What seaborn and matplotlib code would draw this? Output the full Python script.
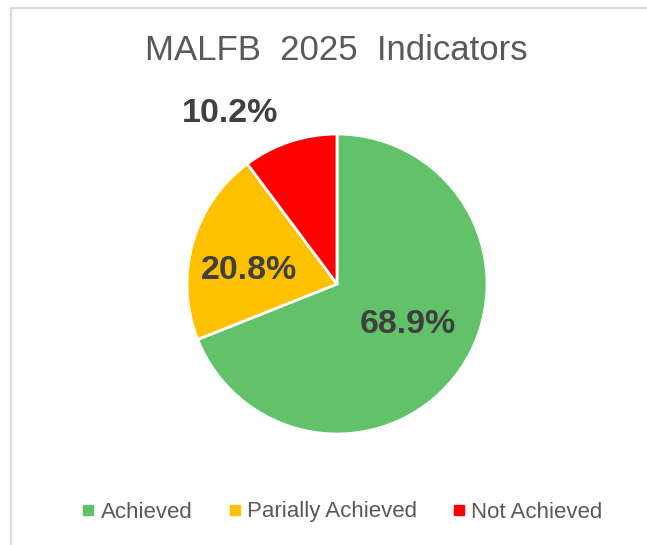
import matplotlib
matplotlib.use("Agg")
import matplotlib.pyplot as plt
import seaborn as sns
import numpy as np
from matplotlib.lines import Line2D

categorias = ["Achieved", "Parially Achieved", "Not Achieved"]
valores = [68.9, 20.8, 10.2]
rotulos = ["68.9%", "20.8%", "10.2%"]
cores = ["#62C26A", "#FFC000", "#FF0000"]

sns.set_theme(style="white")
plt.rcParams["font.family"] = ["Liberation Sans", "DejaVu Sans"]

fig = plt.figure(figsize=(6.47, 5.45), dpi=100)
ax = fig.add_axes([187 / 647, 111 / 545, 300 / 647, 300 / 545])

paleta = sns.color_palette(cores)
wedges, _ = ax.pie(
    valores, colors=paleta, startangle=90, counterclock=False,
    wedgeprops=dict(edgecolor="white", linewidth=2),
)
# posição dos rótulos (raio, ângulo em graus) - o da fatia pequena fica fora
pos_rotulos = [(0.546, -30), (0.595, 171), (1.34, 122)]
for txt, (r, a) in zip(rotulos, pos_rotulos):
    ang = np.deg2rad(a)
    ax.text(r * np.cos(ang), r * np.sin(ang), txt, ha="center", va="center",
            color="#404040", fontsize=24.5, fontweight="bold")
ax.set_xlim(-1, 1)
ax.set_ylim(-1, 1)
ax.set_aspect("equal")
ax.axis("off")

fig.text(336 / 647, 1 - 50 / 545, "MALFB  2025  Indicators", ha="center",
         va="center", fontsize=25, color="#595959")

handles = [Line2D([], [], marker="s", linestyle="", markersize=7,
                  markerfacecolor=c, markeredgecolor=c) for c in cores]
fig.legend(handles, categorias, loc="center", bbox_to_anchor=(0.527, 1 - 512 / 545),
           ncol=3, frameon=False, fontsize=16, handletextpad=0.15,
           columnspacing=1.5, labelcolor="#595959", handlelength=0.8)

# borda cinza (só esquerda e topo visíveis)
y_top = 1 - 7.5 / 545
x_left = 10.5 / 647
fig.add_artist(Line2D([x_left, x_left], [0, y_top], color="#D9D9D9", lw=1.5,
                      transform=fig.transFigure))
fig.add_artist(Line2D([x_left, 1], [y_top, y_top], color="#D9D9D9", lw=1.5,
                      transform=fig.transFigure))

fig.savefig("out.png", dpi=100)
